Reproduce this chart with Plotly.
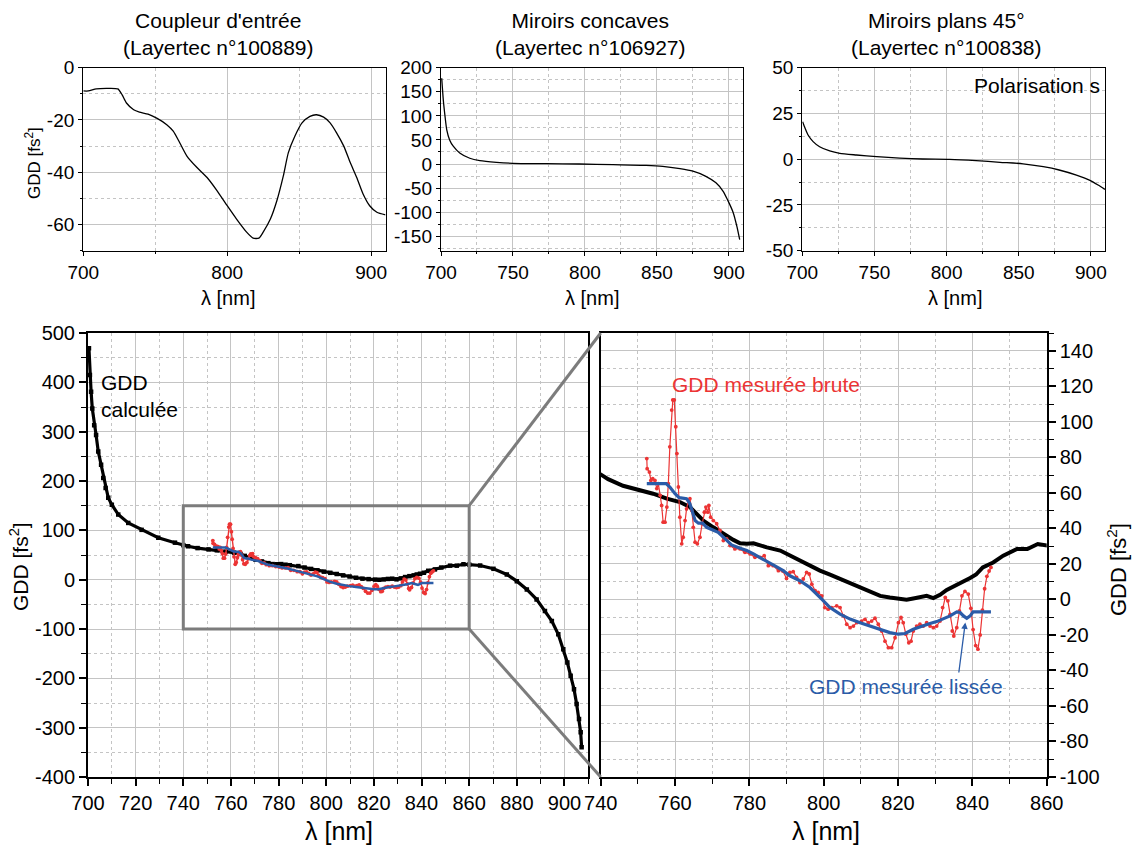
import plotly.graph_objects as go

W, H = 1133, 848

# ---------------- data ----------------
coupler_wl = [700, 703.5, 709, 716, 724, 727, 730, 735, 739, 745, 751, 758, 762.5, 767, 772, 779, 786, 793,
              800, 806.5, 813.5, 818, 822, 825, 830, 834.5, 839, 842.5, 847, 852, 857.5, 862, 867, 871.5,
              876, 881, 885.5, 890, 894.5, 899, 904, 910]
coupler_gdd = [-8.9, -8.9, -8.1, -7.9, -8.1, -10.4, -13.5, -16.1, -17.0, -17.8, -19.3, -21.8, -24.3, -28.7,
               -33.8, -38.2, -42.0, -47.1, -52.8, -57.9, -62.9, -65.2, -65.2, -62.9, -57.9, -50.9, -41.4,
               -32.5, -26.2, -21.1, -18.6, -18.0, -18.9, -21.1, -24.9, -30.0, -36.3, -42.0, -48.4, -52.8,
               -55.3, -56.3]

concave_wl = [700.5, 701.6, 702.8, 704, 706, 708.5, 713, 720, 727, 738.5, 750, 773, 796, 819.5, 842.5, 854,
              866, 875, 884, 891, 896, 899, 903, 905.5, 907.5]
concave_gdd = [178, 133, 99, 71, 50, 37, 23, 12, 7, 3.5, 1.4, 0.7, 0, -1.4, -2.8, -4.8, -9.7, -15, -25.5,
               -39, -56.6, -74, -101, -129, -157]

plane_wl = [700.2, 702, 704, 707.5, 712, 719, 726, 737.5, 751.5, 767.5, 783.5, 802, 820.5, 837, 853, 867,
            878, 890, 899, 905, 909.7]
plane_gdd = [20.5, 16.8, 13.2, 9.6, 6.8, 4.5, 3.2, 2.3, 1.4, 0.6, 0.1, -0.1, -0.8, -1.7, -2.5, -4.1, -5.9,
             -8.7, -11.4, -14.1, -16.5]

calc_wl = [700.4, 700.8, 701.3, 701.8, 702.6, 703.4, 704.3, 705.5, 706.4, 707.4,
           708.5, 710.0, 712.7, 716.9, 722.5, 729.5, 736.5, 740.0, 742.0, 746.0,
           750.6, 754.1, 757.8, 761.3, 764.0, 765.8, 767.6, 770.3, 773.0, 775.7,
           777.5, 779.3, 781.1, 782.9, 784.7, 788.3, 790.9, 793.6, 796.3, 799.0,
           801.7, 804.4, 807.1, 809.8, 812.5, 815.2, 817.8, 820.5, 822.3, 824.1,
           825.9, 827.7, 829.5, 831.3, 833.1, 834.9, 836.7, 838.0, 839.4, 841.0,
           842.8, 845.6, 848.3, 852.0, 854.8, 857.6, 860.0, 864.6, 870.2, 875.8,
           880.0, 884.2, 888.3, 891.8, 894.7, 897.4, 899.5, 901.2, 902.6, 904.0,
           905.1, 906.1, 906.8, 907.2]
calc_gdd = [469, 415, 381, 347, 313, 293, 260, 233, 206, 186,
            166, 152, 132, 115, 101, 85, 75, 70, 67.7, 64,
            61.4, 59.5, 56.7, 54.8, 52, 48.2, 44.4, 40.6, 36.9, 33.5,
            31.6, 31.3, 31.6, 30.3, 29.3, 27.5, 24.6, 21.8, 19, 16.2,
            13.9, 11.5, 8.7, 6.4, 3.9, 2, 1.1, 0.2, -0.2, 0.5,
            1.5, 2, 0.7, 2.6, 5.3, 7.1, 8.7, 10.5, 12, 14,
            18, 20.8, 24.6, 28.4, 28.4, 31.2, 30.6, 28.7, 22, 10.5,
            -3, -19.8, -40, -63.7, -83.9, -110.8, -141, -168, -195, -222,
            -252, -282.6, -309.5, -339.8]

raw_wl = [752.4, 752.5, 753.1, 753.5, 754.0, 754.6, 755.1, 755.5, 756.0, 756.4, 756.8, 757.3, 757.8, 758.2,
          758.6, 759.1, 759.4, 759.8, 760.2, 760.5, 760.9, 761.3, 761.8, 762.2, 762.7, 763.1, 763.6, 764.0,
          764.5, 764.9, 765.4, 766.0, 766.7, 767.3, 767.9, 768.3, 768.8, 769.1, 769.6, 770.3, 771.2, 772.1,
          773.0, 773.9, 774.8, 776.1, 777.5, 778.8, 780.2, 781.5, 782.9, 784.0, 785.1, 786.4, 787.8, 789.0,
          790.0, 790.9, 791.8, 792.7, 793.6, 794.5, 795.4, 796.1, 796.8, 797.7, 798.5, 799.5, 800.3, 801.2,
          802.1, 803.5, 804.4, 805.3, 806.2, 807.1, 808.0, 808.9, 810.2, 811.1, 812.0, 812.9, 813.8, 814.7,
          815.6, 816.5, 817.4, 818.3, 819.2, 820.1, 820.8, 821.4, 822.1, 822.9, 823.5, 824.1, 825.0, 825.9,
          826.8, 827.7, 828.6, 829.5, 830.4, 831.3, 832.0, 832.7, 833.4, 834.0, 834.6, 835.0, 835.8, 836.5,
          837.2, 838.0, 838.9, 839.6, 840.2, 840.9, 841.5, 842.1, 842.7, 843.3, 843.9, 844.5, 845.0]
raw_gdd = [79.3, 73.6, 71.7, 67.0, 68.0, 67.0, 62.4, 65.2, 58.6, 52.9, 43.5, 43.5, 52.0, 65.2,
           85.9, 106.6, 112.3, 112.3, 97.2, 82.1, 63.3, 46.3, 31.3, 35.0, 44.4, 51.0, 55.7, 56.7,
           50.1, 40.6, 32.2, 31.3, 35.0, 42.6, 49.1, 52.0, 49.1, 52.9, 46.3, 44.4, 42.6, 38.8,
           33.1, 34.0, 30.3, 28.4, 28.4, 26.5, 25.6, 23.7, 23.7, 24.6, 19.0, 19.0, 16.2, 16.0,
           11.8, 15.2, 15.6, 12.4, 9.5, 11.5, 15.2, 14.3, 8.6, 4.9, 3.9, 2.0, -4.6, -5.5,
           -4.6, -3.6, -4.6, -9.3, -14.0, -15.9, -15.0, -13.1, -12.2, -11.2, -13.1, -12.2, -10.6, -14.0,
           -17.8, -23.5, -27.2, -27.2, -21.6, -13.1, -10.2, -13.1, -19.6, -24.4, -23.5, -17.8, -15.0, -14.0,
           -15.0, -13.1, -15.0, -15.9, -15.0, -12.2, -4.6, 1.1, -0.8, -8.4, -17.8, -20.6, -15.9, -6.5,
           2.0, 4.5, 3.0, -5.0, -17.0, -26.0, -28.0, -20.0, -6.0, 6.0, 13.0, 16.0, 18.0]

smooth_wl = [752.4, 757.6, 758.6, 760.0, 761.1, 763.1, 764.0, 764.8, 765.4, 766.3, 767.4, 768.5, 769.9,
             771.6, 773.5, 775.2, 777.5, 779.3, 781.1, 783.7, 786.4, 789.1, 790.9, 793.6, 796.3, 799.0,
             801.7, 804.4, 807.1, 809.8, 812.5, 815.2, 817.8, 820.1, 821.9, 824.1, 826.4, 828.6, 830.4,
             832.2, 834.0, 835.8, 836.7, 837.6, 838.5, 839.4, 840.2, 845.0]
smooth_gdd = [65.2, 65.2, 63.3, 59.5, 57.3, 56.7, 53.9, 49.1, 44.4, 42.9, 42.9, 40.6, 39.3,
              37.8, 34.1, 30.7, 28.8, 27.5, 25.6, 22.8, 19.4, 16.2, 13.3, 10.5, 6.7, 1.1,
              -4.6, -8.3, -11.1, -13.1, -15.0, -16.9, -18.7, -19.6, -19.2, -16.8, -15.0, -13.6, -12.5,
              -11.1, -9.3, -7.0, -7.4, -9.3, -10.6, -9.3, -7.0, -7.0]

zoom_x = [740, 860]
zoom_y = [-100, 150]

titles = ["Coupleur d'entrée<br>(Layertec n°100889)",
          "Miroirs concaves<br>(Layertec n°106927)",
          "Miroirs plans 45°<br>(Layertec n°100838)"]

# ---------------- layout helpers ----------------
FONT = "Liberation Sans, Arial, Helvetica, sans-serif"
RED = "#ec3434"
BLUE = "#2b5ca8"
GRAY = "#7c7c7c"
GRID = "#c4c4c4"


def px(x):
    return x / W


def py(y):
    return 1 - y / H


def lab(v):
    return str(int(v)) if float(v).is_integer() else str(v)


def axis(domain, rng, ticks, minor, anchor, fs, lw, tlen, mlen, side=None):
    d = dict(domain=domain, range=rng, tickmode="array", tickvals=ticks,
             ticktext=[lab(v) for v in ticks], ticks="outside", ticklen=tlen,
             tickwidth=max(1, lw * 0.75), tickcolor="black", showline=True, linecolor="black",
             linewidth=lw, mirror=True, showgrid=True, gridcolor=GRID, gridwidth=1,
             zeroline=False, tickfont=dict(size=fs, color="black", family=FONT), anchor=anchor,
             automargin=False,
             minor=dict(tickmode="array", tickvals=minor, ticks="outside", ticklen=mlen,
                        tickcolor="black", tickwidth=max(1, lw * 0.6), showgrid=True,
                        gridcolor=GRID, griddash="dot", gridwidth=1))
    if side:
        d["side"] = side
    return d


def rng_list(a, b, s):
    out = []
    v = a
    while v <= b + 1e-9:
        out.append(round(v, 3))
        v += s
    return out


# pixel boxes of the five plot areas
TL_X, TM_X, TR_X = [83.3, 385.5], [441.0, 743.3], [802.3, 1105.3]
TOP_Y = [67.7, 250.7]
BL_X, BR_X = [88.0, 588.3], [600.7, 1046.7]
BOT_Y = [333.0, 777.0]


def dom_x(p):
    return [px(p[0]), px(p[1])]


def dom_y(p):
    return [py(p[1]), py(p[0])]


fig = go.Figure()

top_line = dict(color="black", width=1.3, shape="spline", smoothing=0.6)
fig.add_trace(go.Scatter(x=coupler_wl, y=coupler_gdd, mode="lines", line=top_line, xaxis="x", yaxis="y"))
fig.add_trace(go.Scatter(x=concave_wl, y=concave_gdd, mode="lines", line=top_line, xaxis="x2", yaxis="y2"))
fig.add_trace(go.Scatter(x=plane_wl, y=plane_gdd, mode="lines", line=top_line, xaxis="x3", yaxis="y3"))

# bottom-left
fig.add_trace(go.Scatter(x=calc_wl, y=calc_gdd, mode="lines+markers",
                         line=dict(color="black", width=3.2),
                         marker=dict(symbol="square", size=4.5, color="black"), xaxis="x4", yaxis="y4"))
fig.add_trace(go.Scatter(x=raw_wl, y=raw_gdd, mode="lines+markers", line=dict(color=RED, width=1.4),
                         marker=dict(size=3.8, color=RED), xaxis="x4", yaxis="y4"))
fig.add_trace(go.Scatter(x=smooth_wl, y=smooth_gdd, mode="lines", line=dict(color=BLUE, width=2.5),
                         xaxis="x4", yaxis="y4"))
# bottom-right (zoom)
fig.add_trace(go.Scatter(x=calc_wl, y=calc_gdd, mode="lines", line=dict(color="black", width=4),
                         xaxis="x5", yaxis="y5"))
fig.add_trace(go.Scatter(x=raw_wl, y=raw_gdd, mode="lines+markers", line=dict(color=RED, width=1.2),
                         marker=dict(size=3.8, color=RED), xaxis="x5", yaxis="y5"))
fig.add_trace(go.Scatter(x=smooth_wl, y=smooth_gdd, mode="lines", line=dict(color=BLUE, width=3.2),
                         xaxis="x5", yaxis="y5"))

top_x_major_a = [700, 800, 900]
top_x_minor_a = [750, 850]
top_x_major_b = rng_list(700, 900, 50)
top_x_minor_b = rng_list(725, 875, 50)
FT = 19
FB = 20

layout = dict(
    width=W, height=H, margin=dict(l=0, r=0, t=0, b=0, autoexpand=False), autosize=False,
    paper_bgcolor="white", plot_bgcolor="white", showlegend=False,
    font=dict(family=FONT, color="black"),
    xaxis=axis(dom_x(TL_X), [700, 910], top_x_major_a, top_x_minor_a, "y", FT, 1.4, 4, 2),
    yaxis=axis(dom_y(TOP_Y), [-70, 0], [0, -20, -40, -60], [-10, -30, -50, -70], "x", FT, 1.4, 4, 2),
    xaxis2=axis(dom_x(TM_X), [700, 910], top_x_major_b, top_x_minor_b, "y2", FT, 1.4, 4, 2),
    yaxis2=axis(dom_y(TOP_Y), [-180, 200], rng_list(-150, 200, 50), rng_list(-175, 175, 50), "x2", FT, 1.4, 4, 2),
    xaxis3=axis(dom_x(TR_X), [700, 910], top_x_major_b, top_x_minor_b, "y3", FT, 1.4, 4, 2),
    yaxis3=axis(dom_y(TOP_Y), [-50, 50], [-50, -25, 0, 25, 50], [-37.5, -12.5, 12.5, 37.5], "x3", FT, 1.4, 4, 2),
    xaxis4=axis(dom_x(BL_X), [700, 910], rng_list(700, 900, 20), rng_list(710, 910, 20), "y4", FB, 2, 7, 5),
    yaxis4=axis(dom_y(BOT_Y), [-400, 500], rng_list(-400, 500, 100), rng_list(-350, 450, 100), "x4", FB, 2, 7, 5),
    xaxis5=axis(dom_x(BR_X), zoom_x, rng_list(740, 860, 20), rng_list(750, 850, 20), "y5", FB, 2, 7, 5),
    yaxis5=axis(dom_y(BOT_Y), zoom_y, rng_list(-100, 140, 20), rng_list(-90, 150, 20), "x5", FB, 2, 7, 5,
                side="right"),
)
fig.update_layout(**layout)


def to_px(v, dom, rng):
    return dom[0] + (v - rng[0]) / (rng[1] - rng[0]) * (dom[1] - dom[0])


bl_dx, bl_dy = dom_x(BL_X), dom_y(BOT_Y)
br_dx, br_dy = dom_x(BR_X), dom_y(BOT_Y)
shapes = [
    dict(type="rect", xref="x4", yref="y4", x0=zoom_x[0], x1=zoom_x[1], y0=zoom_y[0], y1=zoom_y[1],
         line=dict(color=GRAY, width=3)),
]
for yv in zoom_y:
    shapes.append(dict(type="line", xref="paper", yref="paper",
                       x0=to_px(zoom_x[1], bl_dx, [700, 910]), y0=to_px(yv, bl_dy, [-400, 500]),
                       x1=to_px(zoom_x[0], br_dx, zoom_x), y1=to_px(yv, br_dy, zoom_y),
                       line=dict(color=GRAY, width=3)))
fig.update_layout(shapes=shapes)

ann = []


def text(x, y, s, size, color="black", xanchor="center", yanchor="middle", align="center", angle=0):
    ann.append(dict(x=px(x), y=py(y), xref="paper", yref="paper", text=s, showarrow=False,
                    font=dict(size=size, color=color, family=FONT), xanchor=xanchor, yanchor=yanchor,
                    align=align, textangle=angle))


# subplot titles
text(218, 34, titles[0], 21)
text(590, 34, titles[1], 21)
text(946, 34, titles[2], 21)
# x axis titles
for cx in (228, 592, 955):
    text(cx, 298, "λ [nm]", 20)
text(339, 831, "λ [nm]", 25)
text(826, 831, "λ [nm]", 25)
# y axis titles
text(33, 163, "GDD [fs<sup>2</sup>]", 17, angle=-90)
text(19, 567, "GDD [fs<sup>2</sup>]", 21, angle=-90)
text(1117, 570, "GDD [fs<sup>2</sup>]", 22, angle=-90)
# in-plot labels
text(1102, 85, "Polarisation s", 21, xanchor="right")
text(99, 396, "GDD<br>calculée", 21, xanchor="left", align="left")
text(766, 384, "GDD mesurée brute", 21, color=RED)
text(906, 686, "GDD mesurée lissée", 21, color=BLUE)

ann.append(dict(x=838.1, y=-13, xref="x5", yref="y5", ax=836.3, ay=-42, axref="x5", ayref="y5",
                text="", showarrow=True, arrowhead=2, arrowsize=1, arrowwidth=1.3, arrowcolor=BLUE))
fig.update_layout(annotations=ann)

fig.write_html("out.html", config={"displayModeBar": False},
               post_script="document.body.style.margin='0';")
